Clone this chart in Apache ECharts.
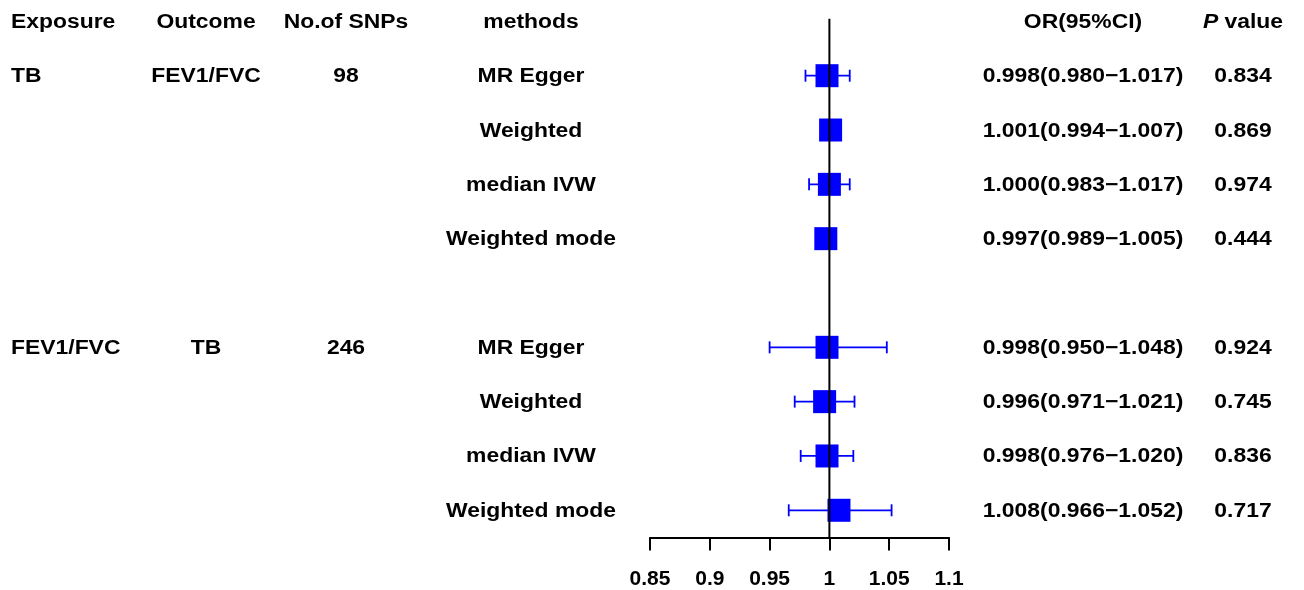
<!DOCTYPE html>
<html>
<head>
<meta charset="utf-8">
<script src="https://cdn.jsdelivr.net/npm/echarts@6/dist/echarts.min.js"></script>
<style>
html,body{margin:0;padding:0;background:#fff;}
#chart{width:1304px;height:590px;}
</style>
</head>
<body>
<div id="chart"></div>
<script>
// ---- data ----
const headers = ['Exposure', 'Outcome', 'No.of SNPs', 'methods', 'OR(95%CI)', 'P value'];
const rowPos = [0, 1, 2, 3, 5, 6, 7, 8];
const exposure = ['TB', '', '', '', 'FEV1/FVC', '', '', ''];
const outcome = ['FEV1/FVC', '', '', '', 'TB', '', '', ''];
const nSNPs = ['98', '', '', '', '246', '', '', ''];
const methods = ['MR Egger', 'Weighted', 'median IVW', 'Weighted mode', 'MR Egger', 'Weighted', 'median IVW', 'Weighted mode'];
const orVal = [0.998, 1.001, 1.000, 0.997, 0.998, 0.996, 0.998, 1.008];
const lower = [0.980, 0.994, 0.983, 0.989, 0.950, 0.971, 0.976, 0.966];
const upper = [1.017, 1.007, 1.017, 1.005, 1.048, 1.021, 1.020, 1.052];
const pVal = ['0.834', '0.869', '0.974', '0.444', '0.924', '0.745', '0.836', '0.717'];
const xTicks = [0.85, 0.9, 0.95, 1, 1.05, 1.1];
const refLine = 1;

// ---- layout/style ----
const FONT = 'Liberation Sans, Arial, sans-serif';
const FS = 20;
const SX = 1.145;
const colX = [11, 206, 346, 531, 1083, 1243];
const colAlign = ['left', 'center', 'center', 'center', 'center', 'center'];
const BLUE = '#0000FF';

const orText = orVal.map((v, i) => v.toFixed(3) + '(' + lower[i].toFixed(3) + '\u2212' + upper[i].toFixed(3) + ')');

// table rows: header first
const tableRows = [headers].concat(rowPos.map((r, i) => [exposure[i], outcome[i], nSNPs[i], methods[i], orText[i], pVal[i]]));
const tableY = [-1].concat(rowPos);

const chart = echarts.init(document.getElementById('chart'), null, {renderer: 'canvas'});

function txt(x, y, s, align, rich) {
  const style = {
    text: s, x: 0, y: 0, align: align, verticalAlign: 'middle',
    fontSize: FS, fontWeight: 'bold', fontFamily: FONT, fill: '#000'
  };
  if (rich) style.rich = rich;
  return {type: 'text', x: x, y: y + 1, scaleX: SX, scaleY: 1, style: style};
}

const option = {
  animation: false,
  backgroundColor: '#fff',
  grid: {left: 650, width: 299, top: 18.65, height: 518.8},
  xAxis: {
    type: 'value', min: 0.85, max: 1.1, interval: 0.05,
    splitLine: {show: false},
    axisLine: {show: true, onZero: false, lineStyle: {color: '#000', width: 2}},
    axisTick: {show: true, length: 13, lineStyle: {color: '#000', width: 2}},
    axisLabel: {
      margin: 31, fontSize: 21, fontWeight: 'bold', fontFamily: FONT, color: '#000',
      formatter: v => { const t = xTicks.find(k => Math.abs(k - v) < 1e-9); return t === undefined ? '' : String(t); },
      showMinLabel: true, showMaxLabel: true
    }
  },
  yAxis: {
    type: 'value', inverse: true, min: -1.05, max: 8.5, show: false,
    splitLine: {show: false}
  },
  series: [
    {
      // table text
      type: 'custom', clip: false, silent: true, z: 2,
      data: tableY.map(y => [1, y]),
      renderItem: function (params, api) {
        const py = api.coord([1, api.value(1)])[1];
        const row = tableRows[params.dataIndex];
        const children = [];
        row.forEach((s, c) => {
          if (!s) return;
          if (params.dataIndex === 0 && c === 5) {
            children.push(txt(colX[c], py, '{i|P} value', 'center', {
              i: {fontStyle: 'italic', fontWeight: 'bold', fontSize: FS, fontFamily: FONT, fill: '#000'}
            }));
          } else {
            children.push(txt(colX[c], py, s, colAlign[c]));
          }
        });
        return {type: 'group', children: children};
      }
    },
    {
      // CI whiskers and boxes
      type: 'custom', clip: false, silent: true, z: 3,
      data: rowPos.map((r, i) => [orVal[i], r, lower[i], upper[i]]),
      renderItem: function (params, api) {
        const y = api.value(1);
        const c = api.coord([api.value(0), y]);
        const lo = api.coord([api.value(2), y]);
        const hi = api.coord([api.value(3), y]);
        const cap = 6, half = 11.5;
        const ls = {stroke: BLUE, lineWidth: 1.8};
        return {
          type: 'group',
          children: [
            {type: 'line', shape: {x1: lo[0], y1: lo[1], x2: hi[0], y2: hi[1]}, style: ls},
            {type: 'line', shape: {x1: lo[0], y1: lo[1] - cap, x2: lo[0], y2: lo[1] + cap}, style: ls},
            {type: 'line', shape: {x1: hi[0], y1: hi[1] - cap, x2: hi[0], y2: hi[1] + cap}, style: ls},
            {type: 'rect', shape: {x: c[0] - half, y: c[1] - half, width: 2 * half, height: 2 * half}, style: {fill: BLUE}}
          ]
        };
      }
    },
    {
      // reference line at OR = 1
      type: 'line', z: 5, silent: true, showSymbol: false, symbol: 'none',
      data: [[refLine, -1.05], [refLine, 8.5]],
      lineStyle: {color: '#000', width: 2}
    }
  ]
};
chart.setOption(option);
</script>
</body>
</html>
